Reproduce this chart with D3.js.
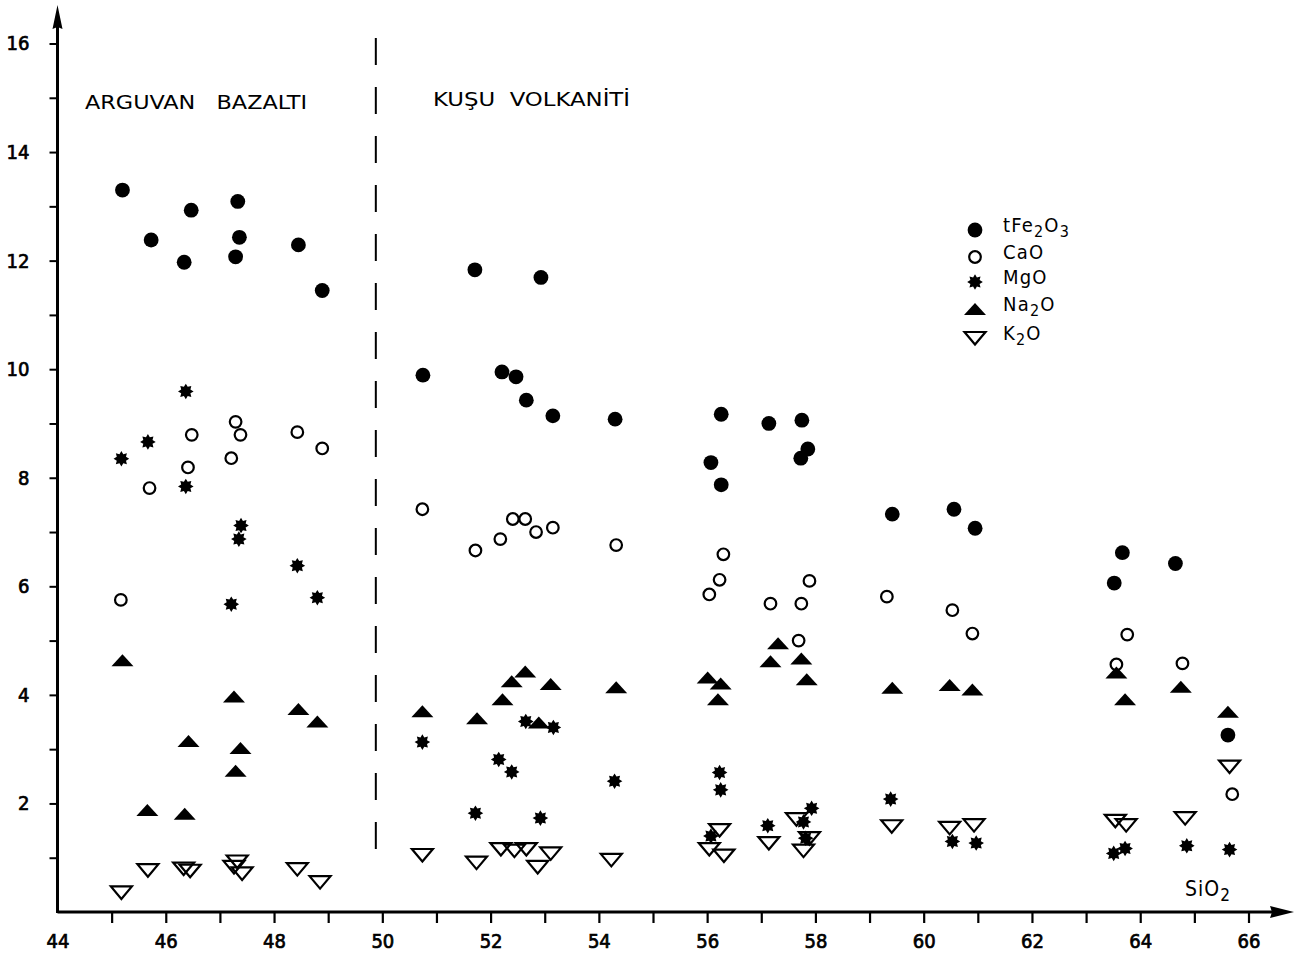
<!DOCTYPE html>
<html>
<head>
<meta charset="utf-8">
<script src="https://cdn.jsdelivr.net/npm/d3@7"></script>
<style>
  html, body { margin: 0; padding: 0; background: #fff; }
  svg { display: block; }
  text { font-family: "DejaVu Sans Condensed", "DejaVu Sans", sans-serif; fill: #000; }
</style>
</head>
<body>
<svg id="chart" width="1312" height="957"></svg>
<script>
// SiO2 (wt %) against major oxides (wt %)
const feX = [45.20,45.73,46.47,46.34,47.33,47.36,47.29,48.45,48.89,51.71,52.93,50.75,52.21,52.47,52.66,53.15,54.30,56.26,56.07,56.26,57.14,57.75,57.86,57.73,59.42,60.56,60.95,63.67,63.52,64.65,65.62];
const feY = [13.30,12.38,12.93,11.97,13.09,12.43,12.07,12.29,11.45,11.83,11.69,9.89,9.95,9.86,9.43,9.14,9.08,9.17,8.28,7.87,9.00,9.06,8.53,8.36,7.33,7.42,7.07,6.62,6.06,6.42,3.26];

const caX = [45.17,45.70,46.48,46.41,47.29,47.38,47.21,48.43,48.89,50.74,51.72,52.18,52.41,52.64,52.84,53.15,54.32,56.30,56.23,56.04,57.89,57.17,57.74,57.69,59.32,60.53,60.90,63.76,63.56,64.78,65.70];
const caY = [5.75,7.81,8.79,8.19,9.03,8.79,8.36,8.84,8.54,7.42,6.66,6.87,7.24,7.24,7.00,7.08,6.76,6.59,6.12,5.85,6.10,5.68,5.68,5.00,5.81,5.56,5.13,5.11,4.56,4.58,2.17];

const mgX = [45.18,45.67,46.37,46.37,47.39,47.35,47.21,48.43,48.80,50.74,51.72,52.15,52.39,52.92,52.65,53.16,54.29,56.23,56.25,56.07,57.12,57.93,57.78,57.82,59.39,60.53,60.97,63.51,63.72,64.86,65.65];
const mgY = [8.35,8.66,9.59,7.84,7.12,6.87,5.67,6.38,5.79,3.13,1.82,2.81,2.58,1.73,3.51,3.40,2.41,2.57,2.25,1.40,1.59,1.91,1.66,1.36,2.08,1.30,1.27,1.08,1.17,1.22,1.15];

const naX = [45.20,45.66,46.35,46.42,47.26,47.38,47.29,48.45,48.80,50.74,51.75,52.22,52.39,52.64,53.11,52.89,54.32,56.01,56.25,56.20,57.31,57.17,57.74,57.84,59.42,60.48,60.90,63.56,63.72,64.75,65.62];
const naY = [4.64,1.88,1.81,3.15,3.97,3.02,2.60,3.74,3.51,3.70,3.57,3.92,4.25,4.43,4.20,3.49,4.14,4.32,4.21,3.92,4.95,4.62,4.67,4.29,4.13,4.18,4.10,4.41,3.92,4.15,3.69];

const kX = [45.18,45.67,46.33,46.45,47.32,47.26,47.41,48.43,48.85,50.74,51.74,52.19,52.44,52.66,53.11,52.87,54.23,56.04,56.23,56.31,57.14,57.65,57.89,57.78,59.41,60.48,60.93,63.54,63.74,64.83,65.65];
const kY = [0.36,0.77,0.80,0.76,0.93,0.83,0.71,0.79,0.55,1.05,0.91,1.16,1.13,1.16,1.08,0.83,0.96,1.16,1.51,1.04,1.27,1.71,1.36,1.13,1.58,1.55,1.60,1.68,1.60,1.73,2.68];

const xTicks = d3.range(44, 67);
const yTicks = d3.range(0, 17);
const xLabels = [44,46,48,50,52,54,56,58,60,62,64,66];
const yLabels = [2,4,6,8,10,12,14,16];
const divider = 49.88;
const groupNames = ["ARGUVAN   BAZALTI", "KUŞU  VOLKANİTİ"];

const svg = d3.select("#chart");
const x = d3.scaleLinear().domain([44, 66]).range([57.5, 1248.5]);
const y = d3.scaleLinear().domain([0, 16]).range([912, 43.5]);

// tick label look: condensed digits with a slightly heavier stroke
const styleTickText = sel => sel.attr("font-size", 20).attr("font-family", null)
  .attr("fill", "#000").attr("stroke", "#000").attr("stroke-width", 0.7);

// axes
const xAxis = d3.axisBottom(x).tickValues(xTicks.slice(1)).tickSize(11)
  .tickFormat(() => "");
const gx = svg.append("g").attr("transform", `translate(0,${y(0)})`).call(xAxis);
gx.select(".domain").remove();
gx.selectAll(".tick line").attr("stroke", "#000").attr("stroke-width", 2.2);

const xLab = d3.axisBottom(x).tickValues(xLabels).tickSize(0).tickPadding(22)
  .tickFormat(d3.format("d"));
const gxl = svg.append("g").attr("transform", `translate(0,${y(0)})`).call(xLab);
gxl.select(".domain").remove();
gxl.selectAll(".tick text").call(styleTickText);

const yAxis = d3.axisLeft(y).tickValues(yTicks.slice(1)).tickSize(8).tickPadding(20)
  .tickFormat(d => yLabels.includes(d) ? d : "");
const gy = svg.append("g").attr("transform", `translate(${x(44)},0)`).call(yAxis);
gy.select(".domain").remove();
gy.selectAll(".tick line").attr("stroke", "#000").attr("stroke-width", 2);
gy.selectAll(".tick text").call(styleTickText);

// axis lines with arrows
svg.append("line").attr("x1", x(44)).attr("x2", 1280).attr("y1", y(0)).attr("y2", y(0))
  .attr("stroke", "#000").attr("stroke-width", 3);
svg.append("path").attr("d", `M1294,${y(0)} L1270,${y(0) - 6} L1272,${y(0)} L1270,${y(0) + 6} Z`).attr("fill", "#000");
svg.append("line").attr("x1", x(44)).attr("x2", x(44)).attr("y1", y(0) + 1).attr("y2", 20)
  .attr("stroke", "#000").attr("stroke-width", 3);
svg.append("path").attr("d", `M${x(44)},5 L${x(44) - 5},29 L${x(44)},27 L${x(44) + 5},29 Z`).attr("fill", "#000");

// divider between the two units
svg.append("line").attr("x1", x(divider)).attr("x2", x(divider)).attr("y1", 38).attr("y2", 866)
  .attr("stroke", "#000").attr("stroke-width", 2).attr("stroke-dasharray", "27 22");

// unit names
svg.append("text").attr("x", 85).attr("y", 109).attr("font-size", 20)
  .attr("textLength", 222).attr("lengthAdjust", "spacingAndGlyphs")
  .style("white-space", "pre").text(groupNames[0]);
svg.append("text").attr("x", 433).attr("y", 106).attr("font-size", 20)
  .attr("textLength", 197).attr("lengthAdjust", "spacingAndGlyphs")
  .style("white-space", "pre").text(groupNames[1]);

// marker shapes
const starPath = (() => {
  const n = 8, ro = 7.8, ri = 5, pts = [];
  for (let i = 0; i < 2 * n; i++) {
    const a = Math.PI * i / n - Math.PI / 2;
    const r = i % 2 ? ri : ro;
    pts.push([r * Math.cos(a), r * Math.sin(a)]);
  }
  return "M" + pts.map(p => p.join(",")).join("L") + "Z";
})();
const upTri = "M-11,6L11,6L0,-6Z";
const downTri = "M-10.5,-6L10.5,-6L0,6.5Z";

const series = [
  { key: "K2O", xs: kX, ys: kY, draw: g => g.append("path").attr("d", downTri).attr("fill", "none").attr("stroke", "#000").attr("stroke-width", 2.2) },
  { key: "Na2O", xs: naX, ys: naY, draw: g => g.append("path").attr("d", upTri).attr("fill", "#000") },
  { key: "MgO", xs: mgX, ys: mgY, draw: g => g.append("path").attr("d", starPath).attr("fill", "#000") },
  { key: "CaO", xs: caX, ys: caY, draw: g => g.append("circle").attr("r", 5.8).attr("fill", "none").attr("stroke", "#000").attr("stroke-width", 2.2) },
  { key: "tFe2O3", xs: feX, ys: feY, draw: g => g.append("circle").attr("r", 7.4).attr("fill", "#000") }
];

series.forEach(s => {
  const pts = s.xs.map((v, i) => [v, s.ys[i]]);
  svg.append("g").attr("class", s.key).selectAll("g").data(pts).join("g")
    .attr("transform", d => `translate(${x(d[0])},${y(d[1])})`)
    .each(function () { s.draw(d3.select(this)); });
});

// legend
const legend = [
  { parts: [["tFe", 0], ["2", 1], ["O", 0], ["3", 1]], s: series[4] },
  { parts: [["CaO", 0]], s: series[3] },
  { parts: [["MgO", 0]], s: series[2] },
  { parts: [["Na", 0], ["2", 1], ["O", 0]], s: series[1] },
  { parts: [["K", 0], ["2", 1], ["O", 0]], s: series[0] }
];
const legendY = [230, 257, 282, 309, 338];
legend.forEach((l, i) => {
  const g = svg.append("g").attr("transform", `translate(975,${legendY[i]})`);
  l.s.draw(g);
  const t = svg.append("text").attr("x", 1003).attr("y", legendY[i] + 7)
    .attr("font-size", 20).attr("letter-spacing", 1.2);
  l.parts.forEach(([str, sub]) => {
    t.append("tspan").attr("dy", sub ? 5 : (t.selectAll("tspan").size() ? -5 : 0))
      .attr("font-size", sub ? 16 : 20).text(str);
  });
});

// x-axis title
const st = svg.append("text").attr("x", 1185).attr("y", 896).attr("font-size", 21)
  .attr("letter-spacing", 1);
st.append("tspan").text("SiO");
st.append("tspan").attr("dy", 5).attr("font-size", 17).text("2");
</script>
</body>
</html>
